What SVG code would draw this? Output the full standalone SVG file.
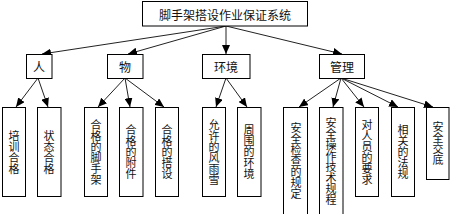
<svg xmlns="http://www.w3.org/2000/svg" width="450" height="214" viewBox="0 0 450 214">
<style>
rect{fill:#fff;stroke:#000;stroke-width:1}
text{font-family:"Noto Sans CJK SC","Noto Sans",sans-serif;fill:#111}
.h{font-size:12px;text-anchor:middle;dominant-baseline:central}
.v{font-size:11px;writing-mode:vertical-rl;text-anchor:middle}
.c line{stroke:#222;stroke-width:1;marker-end:url(#a)}
</style>
<defs>
<marker id="a" markerUnits="userSpaceOnUse" markerWidth="9" markerHeight="8" refX="9" refY="4" orient="auto"><path d="M0,0L9,4L0,8Z" fill="#000"/></marker>
</defs>
<rect x="0" y="0" width="450" height="214" style="stroke:none"/>
<g class="c" id="connectors">
<line x1="226" y1="26" x2="42" y2="54"/>
<line x1="226" y1="26" x2="128" y2="54"/>
<line x1="226" y1="26" x2="226" y2="54"/>
<line x1="226" y1="26" x2="342" y2="54"/>
<line x1="38" y1="78" x2="16" y2="107"/>
<line x1="38" y1="78" x2="48" y2="107"/>
<line x1="125" y1="78" x2="98" y2="107"/>
<line x1="125" y1="78" x2="130" y2="107"/>
<line x1="125" y1="78" x2="164" y2="107"/>
<line x1="226" y1="78" x2="216" y2="107"/>
<line x1="226" y1="78" x2="247" y2="107"/>
<line x1="341" y1="78" x2="299" y2="107"/>
<line x1="341" y1="78" x2="333" y2="107"/>
<line x1="341" y1="78" x2="364" y2="107"/>
<line x1="341" y1="78" x2="398" y2="107"/>
<line x1="341" y1="78" x2="433" y2="107"/>
</g>
<g id="root"><rect x="142.5" y="1.5" width="165" height="24.5"/><text class="h" x="225" y="14">脚手架搭设作业保证系统</text></g>
<g id="ren"><rect x="26.5" y="54.5" width="25.5" height="24"/><text class="h" x="39" y="66">人</text></g>
<g id="wu"><rect x="107.5" y="54.5" width="35.5" height="24"/><text class="h" x="125" y="66">物</text></g>
<g id="huanjing"><rect x="202.5" y="54.5" width="47.5" height="24"/><text class="h" x="226" y="66">环境</text></g>
<g id="guanli"><rect x="319.5" y="54.5" width="45" height="24"/><text class="h" x="342" y="66">管理</text></g>
<g id="n1"><rect x="2.5" y="107.5" width="23" height="89"/><text class="v" x="14" y="152">培训合格</text></g>
<g id="n2"><rect x="37.5" y="107.5" width="23.5" height="89"/><text class="v" x="49" y="152">状态合格</text></g>
<g id="n3"><rect x="84.5" y="107.5" width="23" height="89"/><text class="v" x="96" y="152">合格的脚手架</text></g>
<g id="n4"><rect x="119.5" y="107.5" width="23.5" height="89"/><text class="v" x="131" y="152">合格的附件</text></g>
<g id="n5"><rect x="155.5" y="107.5" width="23" height="89"/><text class="v" x="167" y="152">合格的搭设</text></g>
<g id="n6"><rect x="202.5" y="107.5" width="23" height="89"/><text class="v" x="214" y="152">允许的风雨雪</text></g>
<g id="n7"><rect x="237.5" y="107.5" width="23.5" height="89"/><text class="v" x="249" y="152">周围的环境</text></g>
<g id="n8"><rect x="283.5" y="107.5" width="24" height="110"/><text class="v" x="296" y="161">安全检查的规定</text></g>
<g id="n9"><rect x="319.5" y="107.5" width="23.5" height="110"/><text class="v" x="331" y="161">安全操作技术规程</text></g>
<g id="n10"><rect x="355.5" y="107.5" width="23" height="89"/><text class="v" x="367" y="152">对人员的要求</text></g>
<g id="n11"><rect x="391.5" y="107.5" width="23" height="89"/><text class="v" x="403" y="152">相关的法规</text></g>
<g id="n12"><rect x="426.5" y="107.5" width="22.5" height="72"/><text class="v" x="438" y="143">安全交底</text></g>
</svg>
